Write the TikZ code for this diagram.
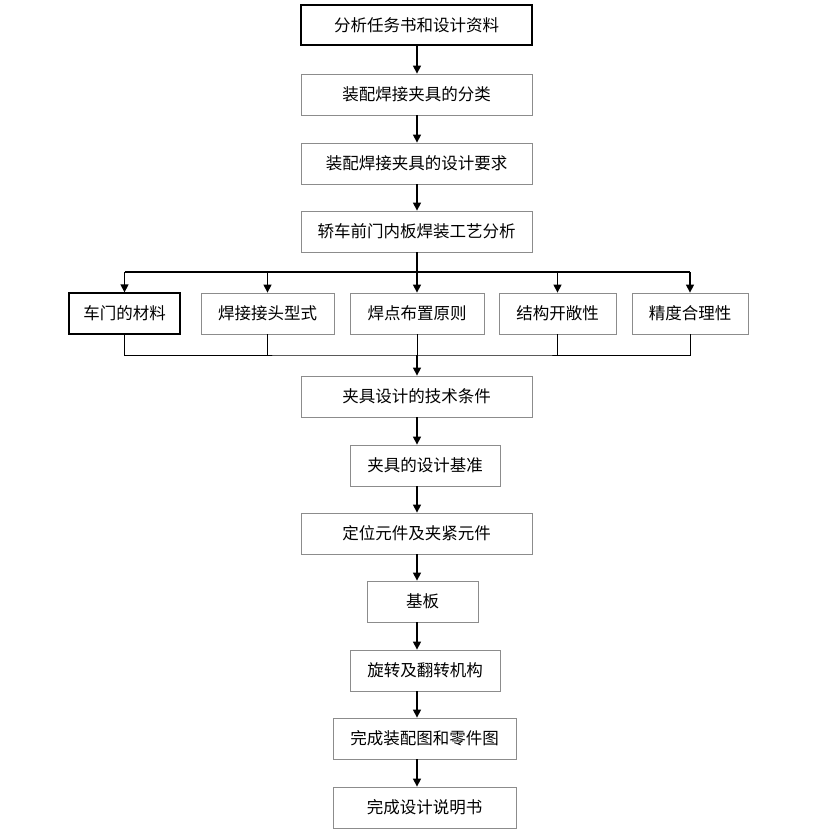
\documentclass[tikz,border=0pt]{standalone}
\usepackage{fontspec}
\newfontfamily\cjk{Noto Sans CJK SC}
\usetikzlibrary{arrows.meta,calc}
\tikzset{
  stepbox/.style={draw=gray!90,line width=0.8pt,inner sep=0pt,font=\cjk\fontsize{16.5}{19}\selectfont},
  keybox/.style={stepbox,draw=black,line width=1.3pt},
  flow/.style={-{Triangle[length=8pt,width=8pt]},black,line width=1.3pt},
  merge/.style={black,line width=0.9pt},
}

\begin{document}
\begin{tikzpicture}[x=1pt,y=-1pt]
  \useasboundingbox (0,0) rectangle (819,835);
  % main column
  \node[keybox,minimum width=231,minimum height=40] (a1) at (416.5,25) {分析任务书和设计资料};
  \node[stepbox,minimum width=231,minimum height=41] (a2) at (416.5,94.5) {装配焊接夹具的分类};
  \node[stepbox,minimum width=231,minimum height=41] (a3) at (416.5,163.5) {装配焊接夹具的设计要求};
  \node[stepbox,minimum width=231,minimum height=41] (a4) at (416.5,231.5) {轿车前门内板焊装工艺分析};
  % factors
  \node[keybox,minimum width=111,minimum height=41] (f1) at (124.5,313.5) {车门的材料};
  \node[stepbox,minimum width=133,minimum height=41] (f2) at (267.5,313.5) {焊接接头型式};
  \node[stepbox,minimum width=134,minimum height=41] (f3) at (417,313.5) {焊点布置原则};
  \node[stepbox,minimum width=117,minimum height=41] (f4) at (557.5,313.5) {结构开敞性};
  \node[stepbox,minimum width=116,minimum height=41] (f5) at (690,313.5) {精度合理性};
  % design steps
  \node[stepbox,minimum width=231,minimum height=41] (b1) at (416.5,396.5) {夹具设计的技术条件};
  \node[stepbox,minimum width=150,minimum height=41] (b2) at (425,465.5) {夹具的设计基准};
  \node[stepbox,minimum width=231,minimum height=41] (b3) at (416.5,533.5) {定位元件及夹紧元件};
  \node[stepbox,minimum width=111,minimum height=41] (b4) at (422.5,601.5) {基板};
  \node[stepbox,minimum width=150,minimum height=41] (b5) at (425,670.5) {旋转及翻转机构};
  \node[stepbox,minimum width=183,minimum height=41] (b6) at (424.5,738.5) {完成装配图和零件图};
  \node[stepbox,minimum width=183,minimum height=41] (b7) at (424.5,807.5) {完成设计说明书};

  \coordinate (split) at (417,272);
  \coordinate (join) at (417,355);

  \draw[flow] (a1.south -| split) -- (a2.north -| split);
  \draw[flow] (a2.south -| split) -- (a3.north -| split);
  \draw[flow] (a3.south -| split) -- (a4.north -| split);
  \draw[black,line width=1.3pt] (a4.south -| split) -- (split);
  \draw[black,line width=1.3pt] (split -| f1) -- (split -| f5);
  \foreach \f in {f1,f2,f3,f4,f5}
    \draw[flow] (split -| \f) -- (\f.north);
  \draw[merge] (f1.south) |- (join) -| (f5.south);
  \foreach \f in {f2,f3,f4}
    \draw[merge] (\f.south) -- (join -| \f);
  \draw[flow] (join) -- (b1.north -| join);
  \foreach \u/\v in {b1/b2,b2/b3,b3/b4,b4/b5,b5/b6,b6/b7}
    \draw[flow] (\u.south -| split) -- (\v.north -| split);
\end{tikzpicture}
\end{document}
